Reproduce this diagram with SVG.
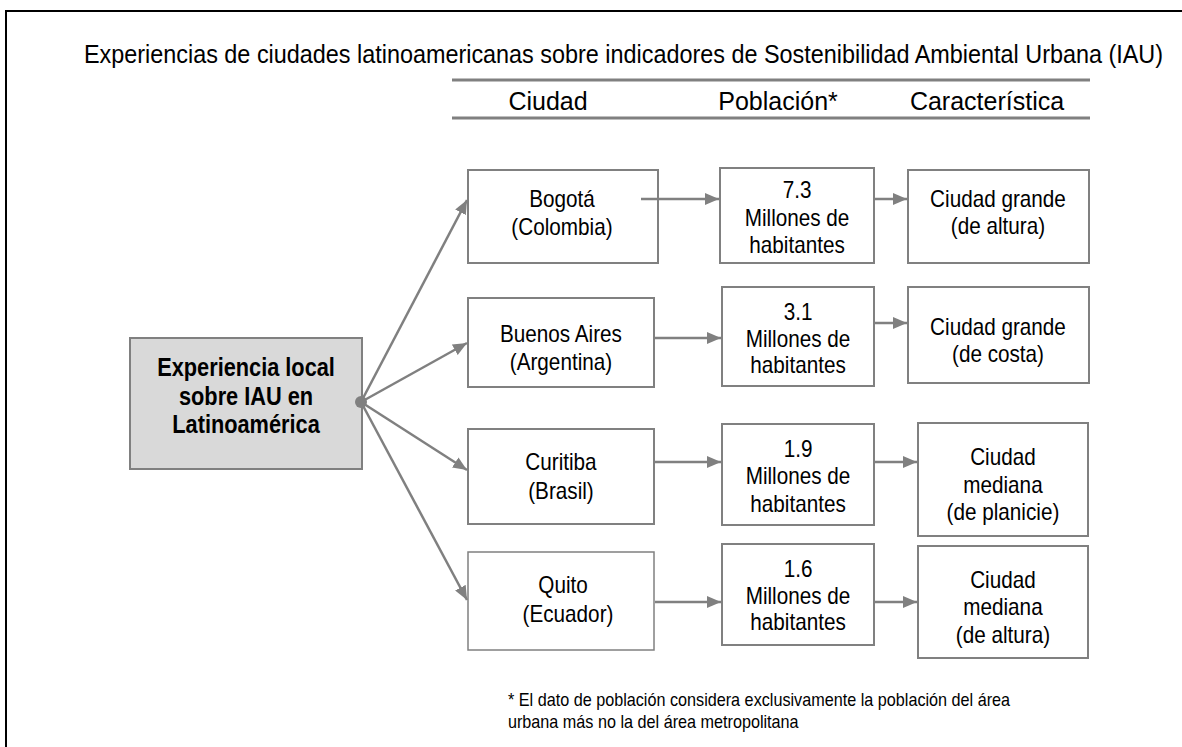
<svg xmlns="http://www.w3.org/2000/svg" width="1182" height="747" viewBox="0 0 1182 747">
<defs>
<marker id="ah" viewBox="0 0 14 12" refX="14" refY="6" markerWidth="14" markerHeight="12" markerUnits="userSpaceOnUse" orient="auto">
<path d="M0,0 L14,6 L0,12 Z" fill="#808080"/>
</marker>
<style>
text{font-family:"Liberation Sans",Arial,sans-serif;fill:#000;}
.h{font-size:25px;text-anchor:middle;}
.t{font-size:23px;text-anchor:middle;}
.b{font-size:25px;text-anchor:middle;font-weight:bold;}
.f{font-size:18px;}
.box{fill:#fff;stroke:#808080;stroke-width:2;}
.main{fill:#d9d9d9;stroke:#808080;stroke-width:2;}
.c{stroke:#808080;stroke-width:2.5;fill:none;marker-end:url(#ah);}
.rule{stroke:#808080;stroke-width:3;}
</style>
</defs>
<rect width="1182" height="747" fill="#fff"/>
<rect x="6" y="11" width="1200" height="800" fill="none" stroke="#000" stroke-width="2"/>
<g id="title" transform="scale(0.9,1)">
<text x="93.3" y="63" style="font-size:26px" textLength="1199" lengthAdjust="spacingAndGlyphs">Experiencias de ciudades latinoamericanas sobre indicadores de Sostenibilidad Ambiental Urbana (IAU)</text>
</g>
<g id="header">
<line class="rule" x1="452" y1="80" x2="1090" y2="80"/>
<line class="rule" x1="452" y1="118" x2="1090" y2="118"/>
<text class="h" x="548" y="110">Ciudad</text>
<text class="h" x="778" y="110">Población*</text>
<text class="h" x="987" y="110">Característica</text>
</g>
<g id="main">
<rect class="main" x="130" y="338" width="232" height="131"/>
<g transform="scale(0.87,1)">
<text class="b" x="282.8" y="376">Experiencia local</text>
<text class="b" x="282.8" y="405">sobre IAU en</text>
<text class="b" x="282.8" y="433">Latinoamérica</text>
</g>
</g>
<g id="bogota">
<rect class="box" x="468" y="170" width="190" height="93"/>
<g transform="scale(0.9,1)">
<text class="t" x="624.4" y="207">Bogotá</text>
<text class="t" x="624.4" y="235">(Colombia)</text>
</g>
</g>
<g id="pop73">
<rect class="box" x="720" y="168" width="154" height="95"/>
<g transform="scale(0.9,1)">
<text class="t" x="885.6" y="198">7.3</text>
<text class="t" x="885.6" y="226">Millones de</text>
<text class="t" x="885.6" y="253">habitantes</text>
</g>
</g>
<g id="char1">
<rect class="box" x="908" y="170" width="181" height="93"/>
<g transform="scale(0.9,1)">
<text class="t" x="1108.9" y="207">Ciudad grande</text>
<text class="t" x="1108.9" y="234">(de altura)</text>
</g>
</g>
<g id="buenosaires">
<rect class="box" x="468" y="298" width="186" height="89"/>
<g transform="scale(0.9,1)">
<text class="t" x="623.3" y="342">Buenos Aires</text>
<text class="t" x="623.3" y="370">(Argentina)</text>
</g>
</g>
<g id="pop31">
<rect class="box" x="722" y="287" width="152" height="99"/>
<g transform="scale(0.9,1)">
<text class="t" x="886.7" y="320">3.1</text>
<text class="t" x="886.7" y="347">Millones de</text>
<text class="t" x="886.7" y="373">habitantes</text>
</g>
</g>
<g id="char2">
<rect class="box" x="908" y="287" width="181" height="96"/>
<g transform="scale(0.9,1)">
<text class="t" x="1108.9" y="335">Ciudad grande</text>
<text class="t" x="1108.9" y="362">(de costa)</text>
</g>
</g>
<g id="curitiba">
<rect class="box" x="468" y="429" width="186" height="95"/>
<g transform="scale(0.9,1)">
<text class="t" x="623.3" y="470">Curitiba</text>
<text class="t" x="623.3" y="499">(Brasil)</text>
</g>
</g>
<g id="pop19">
<rect class="box" x="722" y="424" width="152" height="101"/>
<g transform="scale(0.9,1)">
<text class="t" x="886.7" y="457">1.9</text>
<text class="t" x="886.7" y="484">Millones de</text>
<text class="t" x="886.7" y="512">habitantes</text>
</g>
</g>
<g id="char3">
<rect class="box" x="918" y="423" width="170" height="113"/>
<g transform="scale(0.9,1)">
<text class="t" x="1114.4" y="465">Ciudad</text>
<text class="t" x="1114.4" y="493">mediana</text>
<text class="t" x="1114.4" y="520">(de planicie)</text>
</g>
</g>
<g id="quito">
<rect class="box" x="468" y="552" width="186" height="98" style="stroke-width:1.5"/>
<g transform="scale(0.9,1)">
<text class="t" x="625.6" y="593">Quito</text>
<text class="t" x="631.1" y="622">(Ecuador)</text>
</g>
</g>
<g id="pop16">
<rect class="box" x="722" y="544" width="152" height="101"/>
<g transform="scale(0.9,1)">
<text class="t" x="886.7" y="577">1.6</text>
<text class="t" x="886.7" y="604">Millones de</text>
<text class="t" x="886.7" y="630">habitantes</text>
</g>
</g>
<g id="char4">
<rect class="box" x="918" y="546" width="170" height="112"/>
<g transform="scale(0.9,1)">
<text class="t" x="1114.4" y="588">Ciudad</text>
<text class="t" x="1114.4" y="615">mediana</text>
<text class="t" x="1114.4" y="643">(de altura)</text>
</g>
</g>
<g id="connectors">
<line class="c" x1="361" y1="402" x2="467" y2="200"/>
<line class="c" x1="361" y1="402" x2="467" y2="343"/>
<line class="c" x1="361" y1="402" x2="467" y2="470"/>
<line class="c" x1="361" y1="402" x2="467" y2="600"/>
<line class="c" x1="641" y1="199" x2="719" y2="199"/>
<line class="c" x1="874" y1="199" x2="907" y2="199"/>
<line class="c" x1="655" y1="338" x2="721" y2="338"/>
<line class="c" x1="874" y1="323" x2="907" y2="323"/>
<line class="c" x1="655" y1="462" x2="721" y2="462"/>
<line class="c" x1="874" y1="462" x2="917" y2="462"/>
<line class="c" x1="655" y1="602" x2="721" y2="602"/>
<line class="c" x1="874" y1="602" x2="917" y2="602"/>
<circle cx="361" cy="402" r="6" fill="#808080"/>
</g>
<g id="footnote" transform="scale(0.9,1)">
<text class="f" x="564.4" y="706">* El dato de población considera exclusivamente la población del área</text>
<text class="f" x="564.4" y="728">urbana más no la del área metropolitana</text>
</g>
</svg>
